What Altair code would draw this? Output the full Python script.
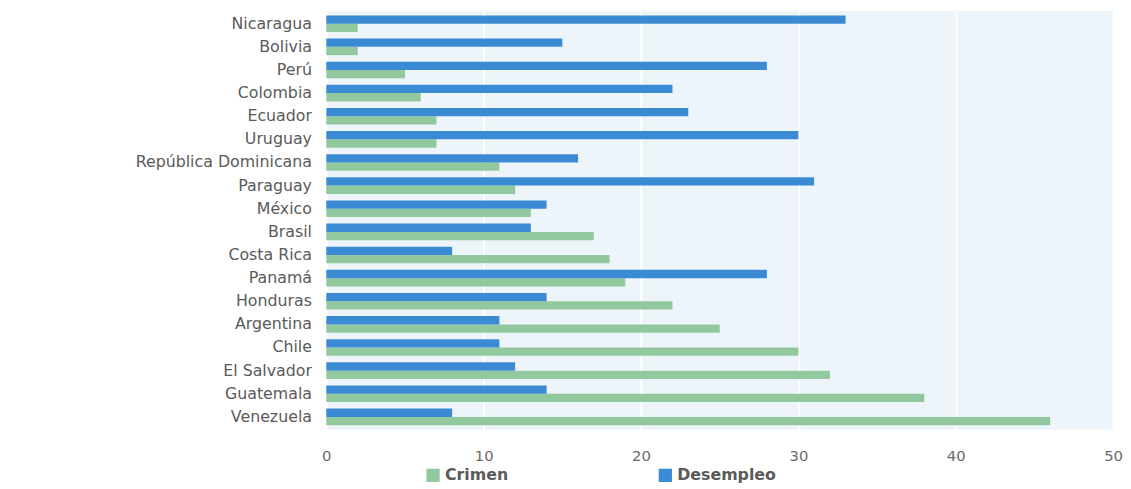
import altair as alt
import pandas as pd

countries = ["Nicaragua", "Bolivia", "Perú", "Colombia", "Ecuador", "Uruguay",
             "República Dominicana", "Paraguay", "México", "Brasil", "Costa Rica",
             "Panamá", "Honduras", "Argentina", "Chile", "El Salvador", "Guatemala",
             "Venezuela"]
crimen = [2, 2, 5, 6, 7, 7, 11, 12, 13, 17, 18, 19, 22, 25, 30, 32, 38, 46]
desempleo = [33, 15, 28, 22, 23, 30, 16, 31, 14, 13, 8, 28, 14, 11, 11, 12, 14, 8]
series = ["Crimen", "Desempleo"]
colors = ["#92c89e", "#3b8bd4"]

rows = []
for c, cr, de in zip(countries, crimen, desempleo):
    rows.append({"pais": c, "serie": "Crimen", "valor": cr})
    rows.append({"pais": c, "serie": "Desempleo", "valor": de})
df = pd.DataFrame(rows)

chart = alt.Chart(df).mark_bar().encode(
    y=alt.Y("pais:N", sort=countries, title=None,
            scale=alt.Scale(paddingInner=0.28, paddingOuter=0.2),
            axis=alt.Axis(labelFont="DejaVu Sans", labelFontSize=16, labelColor="#5a5a5a",
                          ticks=False, domain=False, labelPadding=15, grid=False,
                          labelLimit=400, minExtent=322)),
    yOffset=alt.YOffset("serie:N", sort=["Desempleo", "Crimen"],
                        scale=alt.Scale(paddingInner=0, paddingOuter=0)),
    x=alt.X("valor:Q", title=None, scale=alt.Scale(domain=[0, 50], nice=False),
            axis=alt.Axis(values=[0, 10, 20, 30, 40, 50], labelFont="DejaVu Sans",
                          labelFontSize=15, labelColor="#6a6a6a", ticks=False,
                          domain=False, labelPadding=19, grid=True,
                          gridColor="#ffffff", gridWidth=2, labelFlush=False)),
    color=alt.Color("serie:N", scale=alt.Scale(domain=series, range=colors),
                    legend=alt.Legend(orient="none", legendX=100, legendY=462,
                                      direction="horizontal", title=None,
                                      symbolType="square", symbolSize=180,
                                      symbolStrokeWidth=0,
                                      labelFont="DejaVu Sans", labelFontSize=16,
                                      labelFontWeight="bold", labelColor="#5a5a5a",
                                      columnPadding=150, padding=0)),
).properties(
    width=796, height=424,
    padding={"left": 0, "top": 0, "right": 0, "bottom": 0}
).configure(
    background="#ffffff"
).configure_view(
    fill="#eef5fa", stroke=None, strokeWidth=0
)

chart.save("out.html", embed_options={"renderer": "svg", "actions": False})
